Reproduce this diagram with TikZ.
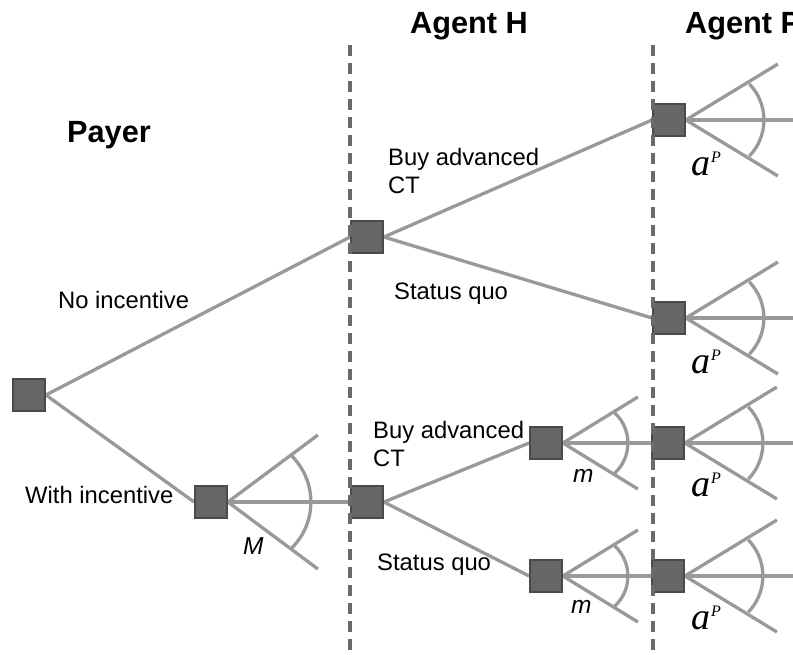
\documentclass[tikz,border=0pt]{standalone}
\usepackage{fontspec}
\setmainfont{Liberation Sans}
\newfontfamily\serifit{Liberation Serif}[ItalicFont={Liberation Serif Italic}]
\usetikzlibrary{calc}
\pgfdeclarelayer{background}
\pgfdeclarelayer{front}
\pgfsetlayers{background,main,front}

\definecolor{branchgray}{HTML}{999999}
\definecolor{boxfill}{HTML}{666666}
\definecolor{boxline}{HTML}{4A4A4A}
\definecolor{divider}{HTML}{626C72}

\tikzset{
  branch/.style={draw=branchgray, line width=3.3pt},
  decision/.style={rectangle, minimum size=32pt, inner sep=0pt, fill=boxfill, draw=boxline, line width=1.8pt},
  divline/.style={draw=divider, line width=3.2pt, dash pattern=on 11pt off 7pt},
  lbl/.style={anchor=base west, inner sep=0pt, font=\fontsize{23.8}{28}\selectfont},
  head/.style={anchor=base west, inner sep=0pt, font=\fontsize{30.7}{34}\selectfont\bfseries},
  actsans/.style={anchor=base west, inner sep=0pt, font=\fontsize{24.5}{28}\selectfont\itshape},
}

% action fan: #1 apex node, #2 end dx, #3 end dy, #4 arc centre offset, #5 arc radius, #6 half angle
\newcommand\actionfan[6]{%
  \draw[branch] (#1.east) -- ++(#2,#3);
  \draw[branch] (#1.east) -- ++(#2,-#3);
  \draw[branch] ($(#1.east)+(#4,0)$) ++(-#6:#5) arc[start angle=-#6, end angle=#6, radius=#5];
}
\newcommand\agentp{{\serifit\itshape\fontsize{38}{40}\selectfont a\kern1pt\raisebox{13pt}{\fontsize{16}{18}\selectfont P}}}

\begin{document}
\begin{tikzpicture}[x=1pt, y=-1pt]
\useasboundingbox (0,0) rectangle (793,654);
\clip (0,0) rectangle (793,654);

% decision nodes
\node[decision] (root) at (29,395) {};
\node[decision] (inc)  at (211,502) {};
\node[decision] (htop) at (367,237) {};
\node[decision] (hbot) at (367,502) {};
\node[decision] (mtop) at (546,443) {};
\node[decision] (mbot) at (546,576) {};
\node[decision] (pa)   at (669,120) {};
\node[decision] (pb)   at (669,318) {};
\node[decision] (pc)   at (668,443) {};
\node[decision] (pd)   at (668,576) {};

% edge of the drawing for the open fans
\coordinate (ea) at (800,120);
\coordinate (eb) at (800,318);
\coordinate (ec) at (800,443);
\coordinate (ed) at (800,576);

\begin{pgfonlayer}{background}
  \draw[branch] (root.east) -- (htop.west);
  \draw[branch] (root.east) -- (inc.west);
  \draw[branch] (htop.east) -- (pa.west);
  \draw[branch] (htop.east) -- (pb.west);
  \draw[branch] (inc.east) -- (hbot.west);
  \draw[branch] (hbot.east) -- (mtop.west);
  \draw[branch] (hbot.east) -- (mbot.west);
  \draw[branch] (mtop.east) -- (pc.west);
  \draw[branch] (mbot.east) -- (pd.west);
  \draw[branch] (pa.east) -- (ea);
  \draw[branch] (pb.east) -- (eb);
  \draw[branch] (pc.east) -- (ec);
  \draw[branch] (pd.east) -- (ed);
  \actionfan{inc}{90}{67}{18}{65}{46}
  \actionfan{mtop}{75}{46}{24}{41}{49}
  \actionfan{mbot}{75}{46}{24}{41}{49}
  \actionfan{pa}{92}{56}{26}{52}{44}
  \actionfan{pb}{92}{56}{26}{52}{44}
  \actionfan{pc}{92}{56}{26}{52}{44}
  \actionfan{pd}{92}{56}{26}{52}{44}
\end{pgfonlayer}

% stage dividers
\coordinate (d1t) at (350,45);
\coordinate (d1b) at (350,660);
\coordinate (d2t) at (653,45);
\coordinate (d2b) at (653,660);
\begin{pgfonlayer}{front}
  \draw[divline] (d1t) -- (d1b);
  \draw[divline] (d2t) -- (d2b);
\end{pgfonlayer}

% headings
\node[head] (payer) at (67,142) {Payer};
\node[head] (agh)   at (410,33) {Agent H};
\node[head] (agp)   at (685,33) {Agent P};

% branch labels
\node[lbl] (noinc)  at (58,308)  {No incentive};
\node[lbl] (withinc) at (25,503) {With incentive};
\node[lbl] (buy1)   at (388,165) {Buy advanced};
\node[lbl] (ct1)    at (388,193) {CT};
\node[lbl] (sq1)    at (394,299) {Status quo};
\node[lbl] (buy2)   at (373,438) {Buy advanced};
\node[lbl] (ct2)    at (373,466) {CT};
\node[lbl] (sq2)    at (377,570) {Status quo};

% action set labels
\node[actsans] (lM)  at (243,554) {M};
\node[actsans] (lm1) at (573,482) {m};
\node[actsans] (lm2) at (571,613) {m};
\node[anchor=base west, inner sep=0pt] (la) at (691,175) {\agentp};
\node[anchor=base west, inner sep=0pt] (lb) at (691,373) {\agentp};
\node[anchor=base west, inner sep=0pt] (lc) at (691,496) {\agentp};
\node[anchor=base west, inner sep=0pt] (ld) at (691,629) {\agentp};
\end{tikzpicture}
\end{document}
